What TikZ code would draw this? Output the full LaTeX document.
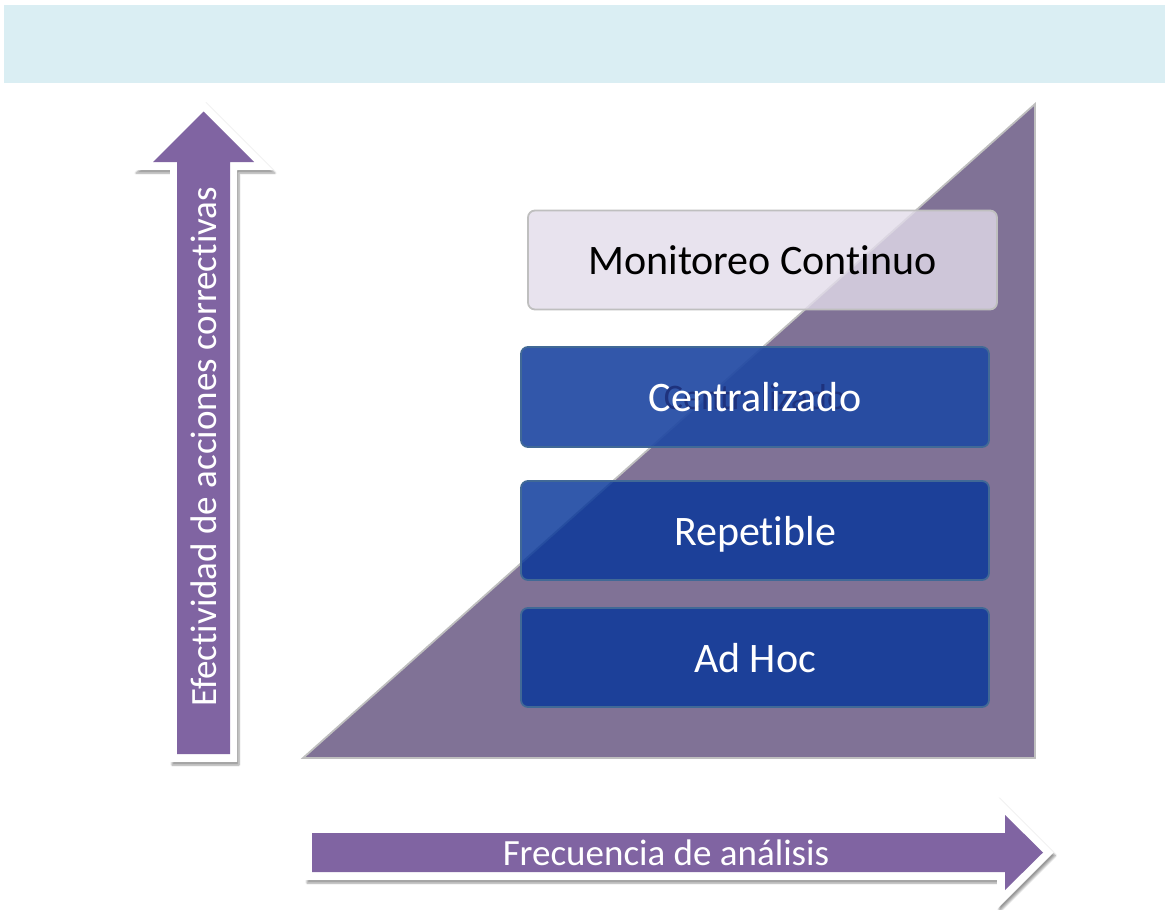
\documentclass[tikz,border=0pt]{standalone}
\usepackage{fontspec}
\setmainfont{Carlito}[Ligatures=NoCommon]
\usetikzlibrary{shadows.blur}
\definecolor{banner}{RGB}{218,238,243}
\definecolor{tri}{RGB}{128,114,150}
\definecolor{arr}{RGB}{128,100,162}
\definecolor{bluebox}{RGB}{8,55,154}
\definecolor{cenbox}{RGB}{33,73,163}
\definecolor{monbox}{RGB}{226,220,234}
\definecolor{blueedge}{RGB}{65,105,150}
\definecolor{ghost}{RGB}{30,50,125}
\definecolor{edgegray}{RGB}{191,191,191}
\tikzset{
  box/.style={draw, rounded corners=7pt, line width=1.8pt, minimum width=468pt, minimum height=99pt, inner sep=0pt, text opacity=1, text height=31.5pt, text depth=1.7pt},
  blue box/.style={box, draw=blueedge, fill=bluebox, fill opacity=0.83},
  lbl/.style={font=\fontsize{42}{42}\selectfont, text=white, text height=31.5pt, text depth=1.7pt},
  arrow outline/.style={fill=white, blur shadow={shadow xshift=2pt, shadow yshift=-3pt, shadow blur steps=6, shadow opacity=40}},
  arrow body/.style={fill=arr},
  axis text/.style={font=\fontsize{37}{37}\selectfont, text=white}
}
\begin{document}
\begin{tikzpicture}[x=1pt,y=-1pt]
\useasboundingbox (0,0) rectangle (1165,910);
% banner
\fill[banner] (4,5) rectangle (1165,83);
% triangle
\filldraw[fill=tri, draw=edgegray, line width=1.8pt, line join=miter] (303,758) -- (1035,758) -- (1035,104) -- cycle;
% vertical arrow
\path[arrow outline] (170,762) -- (170,170) -- (134,170) -- (203.5,100.5) -- (273,170) -- (237,170) -- (237,762) -- cycle;
\fill[arrow body] (177,754) -- (177,162) -- (153,162) -- (203.5,111.5) -- (254,162) -- (230,162) -- (230,754) -- cycle;
\node[axis text, rotate=90] (yaxis) at (203.5,447) {Efectividad de acciones correctivas};
% horizontal arrow
\path[arrow outline] (305,825) -- (997,825) -- (997,796) -- (1053.5,852.5) -- (997,909) -- (997,880) -- (305,880) -- cycle;
\fill[arrow body] (312,833) -- (1005,833) -- (1005,815) -- (1043,852.5) -- (1005,890) -- (1005,872) -- (312,872) -- cycle;
\node[axis text] (xaxis) at (666,853) {Frecuencia de análisis};
% boxes
\node[box, draw=edgegray, fill=monbox, fill opacity=0.8, minimum width=469pt, font=\fontsize{42}{42}\selectfont, text=black] (mon) at (762.5,260) {Monitoreo Continuo};
\node[blue box, fill=cenbox, fill opacity=0.92, minimum height=100pt] (cen) at (755,397) {};
\node[font=\fontsize{36}{36}\selectfont, text=ghost, text height=27pt, text depth=1.5pt] (cenghost) at (cen.center) {Centralizado};
\node[lbl] (centxt) at (cen.center) {Centralizado};
\node[blue box, lbl] (rep) at (755,530.5) {Repetible};
\node[blue box, lbl] (adhoc) at (755,657.5) {Ad Hoc};
\end{tikzpicture}
\end{document}
